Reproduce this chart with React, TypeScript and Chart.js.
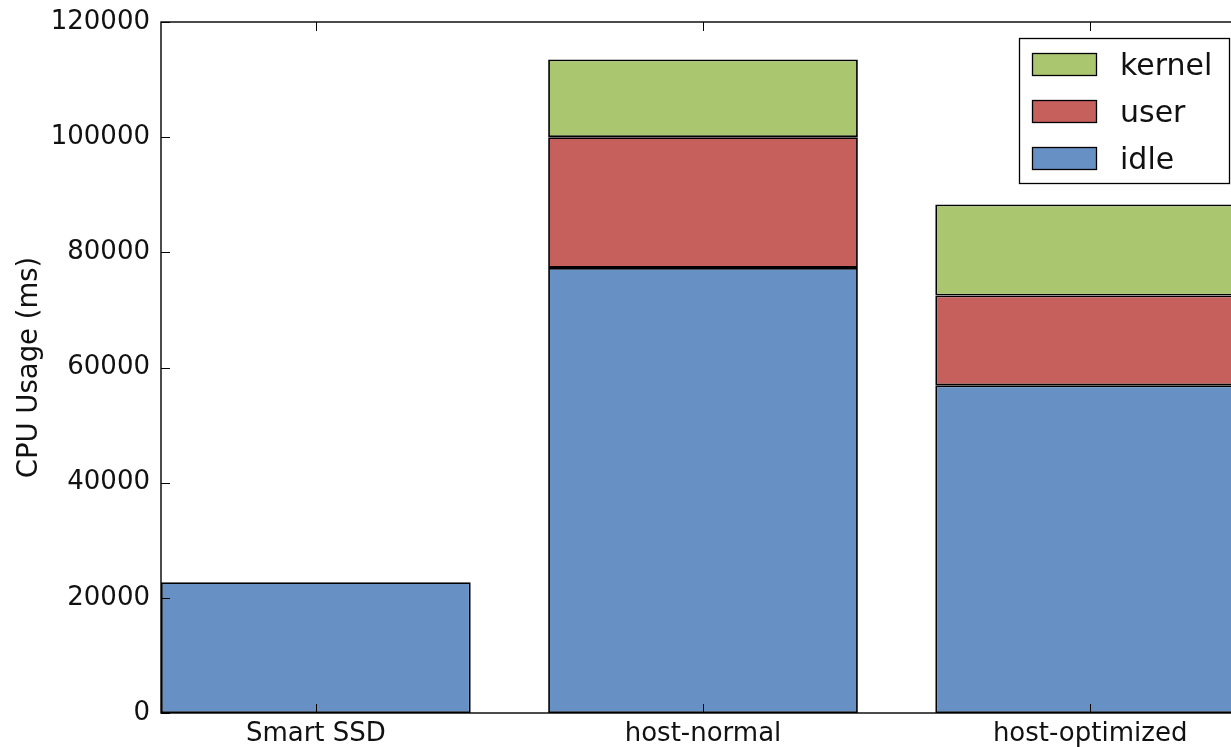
import React, { useEffect, useRef } from 'react';
import { Chart, registerables } from 'chart.js';

Chart.register(...registerables);

const categories = ['Smart SSD', 'host-normal', 'host-optimized'];
const idleValues = [22700, 77300, 56900];
const userValues = [null, 22700, 15600];
const kernelValues = [null, 13500, 15800];
const yTickValues = [0, 20000, 40000, 60000, 80000, 100000, 120000];

const FONT = '"DejaVu Sans", "Liberation Sans", sans-serif';
const TEXT = '#111';
const BLUE = '#6790c5';
const RED = '#c5605c';
const GREEN = '#aac66e';

const toPoints = (vals: (number | null)[]) => vals.map((v, i) => ({ x: i, y: v }));

const frameTicksPlugin = {
  id: 'frameTicks',
  afterDatasetsDraw(chart: any) {
    const { ctx, chartArea, scales } = chart;
    const { left, right, top, bottom } = chartArea;
    const L = 9;
    ctx.save();
    ctx.strokeStyle = '#000';
    ctx.lineWidth = 1;
    ctx.beginPath();
    scales.y.ticks.forEach((t: any) => {
      const y = Math.round(scales.y.getPixelForValue(t.value)) + 0.5;
      ctx.moveTo(left, y);
      ctx.lineTo(left + L, y);
      ctx.moveTo(right, y);
      ctx.lineTo(right - L, y);
    });
    scales.x.ticks.forEach((t: any) => {
      const x = Math.round(scales.x.getPixelForValue(t.value)) + 0.5;
      ctx.moveTo(x, bottom);
      ctx.lineTo(x, bottom - L);
      ctx.moveTo(x, top);
      ctx.lineTo(x, top + L);
    });
    ctx.stroke();
    ctx.lineWidth = 1.4;
    ctx.strokeRect(left, top, right - left, bottom - top);
    ctx.restore();
  },
};

const legendPlugin = {
  id: 'insideLegend',
  afterDraw(chart: any) {
    const { ctx, chartArea } = chart;
    const boxW = 210;
    const boxH = 145;
    const x0 = Math.round(chartArea.right - 16 - boxW);
    const y0 = Math.round(chartArea.top + 16);
    ctx.save();
    ctx.fillStyle = '#fff';
    ctx.fillRect(x0, y0, boxW, boxH);
    ctx.strokeStyle = '#000';
    ctx.lineWidth = 1.3;
    ctx.strokeRect(x0 + 0.5, y0 + 0.5, boxW, boxH);
    const items = [...chart.data.datasets].reverse();
    items.forEach((ds: any, i: number) => {
      const cy = y0 + 26 + i * 47;
      ctx.fillStyle = ds.backgroundColor;
      ctx.fillRect(x0 + 13, cy - 11, 65, 23);
      ctx.strokeRect(x0 + 13.5, cy - 10.5, 64, 22);
      ctx.fillStyle = TEXT;
      ctx.font = `30px ${FONT}`;
      ctx.textBaseline = 'alphabetic';
      ctx.textAlign = 'left';
      ctx.fillText(ds.label, x0 + 101, cy + 11);
    });
    ctx.restore();
  },
};

export default function App() {
  const ref = useRef<HTMLCanvasElement | null>(null);

  useEffect(() => {
    if (!ref.current) return;
    const mk = (label: string, data: (number | null)[], color: string) => ({
      label,
      data: toPoints(data),
      backgroundColor: color,
      borderColor: '#000',
      borderWidth: 1.8,
      borderSkipped: false,
      barPercentage: 0.8,
      categoryPercentage: 1.0,
    });
    const chart = new Chart(ref.current, {
      type: 'bar',
      data: {
        datasets: [
          mk('idle', idleValues, BLUE),
          mk('user', userValues, RED),
          mk('kernel', kernelValues, GREEN),
        ] as any,
      },
      options: {
        animation: false,
        responsive: false,
        maintainAspectRatio: false,
        layout: { padding: { top: 22, right: 15, left: 0, bottom: 0 } },
        plugins: { legend: { display: false }, tooltip: { enabled: false } },
        scales: {
          x: {
            type: 'linear',
            stacked: true,
            min: -0.4,
            max: 2.4,
            offset: false,
            afterBuildTicks: (s: any) => {
              s.ticks = categories.map((_, i) => ({ value: i }));
            },
            ticks: {
              callback: (v: any) => categories[v] ?? '',
              font: { family: FONT, size: 26 },
              color: TEXT,
              padding: 6,
              maxRotation: 0,
              autoSkip: false,
            },
            grid: { display: false, drawTicks: false },
            border: { display: false },
            afterFit: (s: any) => {
              s.height = 34;
              s.paddingLeft = 0;
              s.paddingRight = 0;
            },
          },
          y: {
            stacked: true,
            min: 0,
            max: 120000,
            afterBuildTicks: (s: any) => {
              s.ticks = yTickValues.map((v) => ({ value: v }));
            },
            ticks: {
              callback: (v: any) => String(v),
              font: { family: FONT, size: 26 },
              color: TEXT,
              padding: 11,
            },
            grid: { display: false, drawTicks: false },
            border: { display: false },
            title: {
              display: true,
              text: 'CPU Usage (ms)',
              font: { family: FONT, size: 27.5 },
              color: TEXT,
              padding: { top: 13, bottom: 0 },
            },
            afterFit: (s: any) => {
              s.width = 161;
              s.paddingTop = 0;
              s.paddingBottom = 0;
            },
          },
        } as any,
      },
      plugins: [frameTicksPlugin, legendPlugin],
    });
    return () => chart.destroy();
  }, []);

  return (
    <div
      style={{
        position: 'fixed',
        left: 0,
        top: 0,
        width: 1231,
        height: 747,
        overflow: 'hidden',
        background: '#fff',
      }}
    >
      <canvas ref={ref} width={1260} height={747} style={{ display: 'block' }} />
    </div>
  );
}
